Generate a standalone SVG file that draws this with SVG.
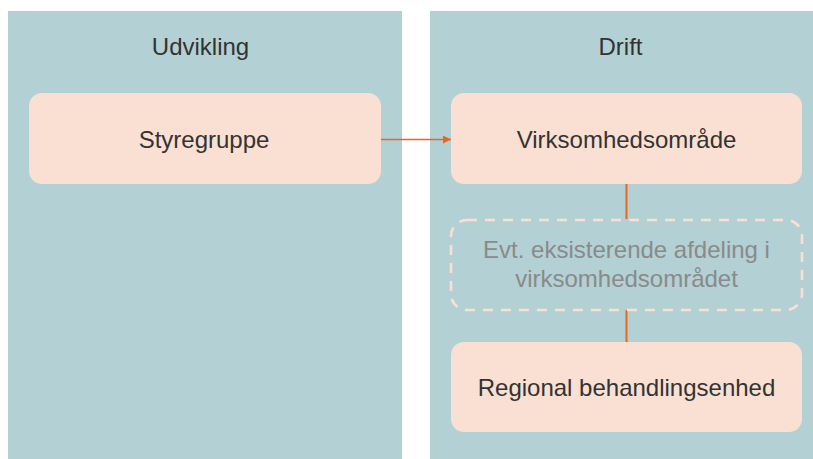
<svg xmlns="http://www.w3.org/2000/svg" width="813" height="459" viewBox="0 0 813 459">
  <defs>
    <style>
      .panel { fill: #b3d0d5; }
      .box { fill: #fae0d2; }
      .dashed { fill: none; stroke: #fae0d2; stroke-width: 2.6; stroke-dasharray: 10 8; }
      .title { font-family: "Liberation Sans", Arial, sans-serif; font-size: 24px; fill: #333333; text-anchor: middle; }
      .label { font-family: "Liberation Sans", Arial, sans-serif; font-size: 24px; fill: #333333; text-anchor: middle; }
      .faint { font-family: "Liberation Sans", Arial, sans-serif; font-size: 24px; fill: #8a8a8a; text-anchor: middle; }
      .link { stroke: #e8661e; fill: none; }
    </style>
    <marker id="arrow" viewBox="0 0 10 10" refX="10" refY="5" markerWidth="9" markerHeight="8" markerUnits="userSpaceOnUse" orient="auto">
      <path d="M0,0 L10,5 L0,10 Z" fill="#e8661e"/>
    </marker>
  </defs>

  <!-- Swimlanes -->
  <g id="lane-udvikling">
    <rect class="panel" x="8" y="11" width="394" height="448"/>
    <text class="title" x="200.5" y="55">Udvikling</text>
  </g>
  <g id="lane-drift">
    <rect class="panel" x="430" y="11" width="383" height="448"/>
    <text class="title" x="620.5" y="55">Drift</text>
  </g>

  <!-- Connectors -->
  <g id="connectors">
    <line class="link" x1="381" y1="139.5" x2="451" y2="139.5" stroke-width="1.4" marker-end="url(#arrow)"/>
    <line class="link" x1="626.5" y1="184" x2="626.5" y2="219" stroke-width="2"/>
    <line class="link" x1="626.5" y1="310" x2="626.5" y2="342" stroke-width="2"/>
  </g>

  <!-- Nodes -->
  <g id="styregruppe">
    <rect class="box" x="29" y="93" width="352" height="91" rx="13"/>
    <text class="label" x="204" y="148">Styregruppe</text>
  </g>
  <g id="virksomhedsomraade">
    <rect class="box" x="451" y="93" width="351" height="91" rx="13"/>
    <text class="label" x="626.5" y="148">Virksomhedsområde</text>
  </g>
  <g id="afdeling">
    <rect class="dashed" x="451" y="220" width="351" height="90" rx="16"/>
    <text class="faint" x="626.5" y="258">Evt. eksisterende afdeling i</text>
    <text class="faint" x="626.5" y="286.5">virksomhedsområdet</text>
  </g>
  <g id="regional">
    <rect class="box" x="451" y="342" width="351" height="90" rx="13"/>
    <text class="label" x="626.5" y="395.5">Regional behandlingsenhed</text>
  </g>
</svg>
